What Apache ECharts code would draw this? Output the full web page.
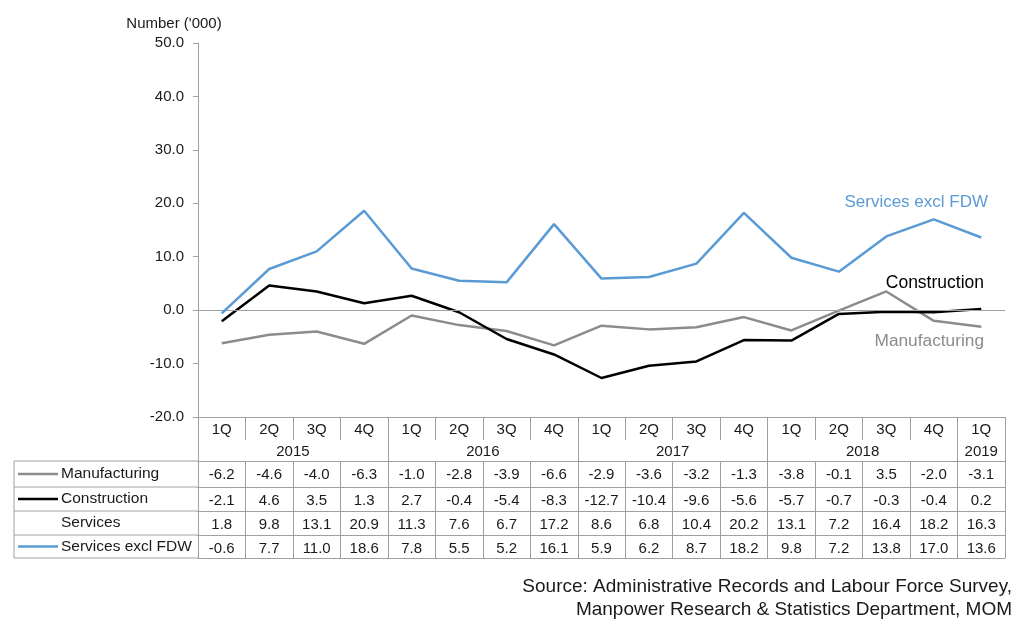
<!DOCTYPE html>
<html>
<head>
<meta charset="utf-8">
<script src="https://cdn.jsdelivr.net/npm/echarts@6/dist/echarts.min.js"></script>
<style>
html,body{margin:0;padding:0;background:#fff;}
#chart{width:1024px;height:624px;}
</style>
</head>
<body>
<div id="chart"></div>
<script>
// ---- data ----
var quarters = ['1Q','2Q','3Q','4Q','1Q','2Q','3Q','4Q','1Q','2Q','3Q','4Q','1Q','2Q','3Q','4Q','1Q'];
var yearLabels = ['2015','2016','2017','2018','2019'];
var yearSpans = [4,4,4,4,1];
var manufacturing = [-6.2,-4.6,-4.0,-6.3,-1.0,-2.8,-3.9,-6.6,-2.9,-3.6,-3.2,-1.3,-3.8,-0.1,3.5,-2.0,-3.1];
var construction = [-2.1,4.6,3.5,1.3,2.7,-0.4,-5.4,-8.3,-12.7,-10.4,-9.6,-5.6,-5.7,-0.7,-0.3,-0.4,0.2];
var services = [1.8,9.8,13.1,20.9,11.3,7.6,6.7,17.2,8.6,6.8,10.4,20.2,13.1,7.2,16.4,18.2,16.3];
var servicesExFDW = [-0.6,7.7,11.0,18.6,7.8,5.5,5.2,16.1,5.9,6.2,8.7,18.2,9.8,7.2,13.8,17.0,13.6];
var rowNames = ['Manufacturing','Construction','Services','Services excl FDW'];
var yTicks = [-20,-10,0,10,20,30,40,50];

// ---- styling / layout ----
var FONT = 'Liberation Sans, Arial, sans-serif';
var GRAY = '#8c8c8c', BLUE = '#5b9bd5', BLACK = '#000000', GRID = '#a0a0a0', TXT = '#1a1a1a';
var L = 198, R = 19, TOP = 43, BOT = 207;
var W = 1024, H = 624;
var axisY = H - BOT;             // 417
var headerH = 44;                // quarter + year rows
var rowOffsets = [44, 70, 94, 118];
var tableBottomOffset = 141;
var rowsData = [manufacturing, construction, services, servicesExFDW];
var rowColors = [GRAY, BLACK, null, BLUE];

var keys = quarters.map(function(q,i){ return String(i); });

// year boundaries / centers
var yearBounds = [0], yearCenters = [];
(function(){ var acc = 0; yearSpans.forEach(function(s){ yearCenters.push(acc + s/2); acc += s; yearBounds.push(acc); }); })();

var xAxes = [];
// quarter axis (series axis)
xAxes.push({
  type: 'category', data: keys, position: 'bottom', offset: 0, boundaryGap: true,
  axisLine: { onZero: false, lineStyle: { color: GRID, width: 1 } },
  axisTick: { show: true, length: 23, interval: 0, lineStyle: { color: GRID } },
  axisLabel: { interval: 0, margin: 5, fontSize: 15, color: TXT, fontFamily: FONT,
    formatter: function(v, i){ return quarters[i]; } },
  splitLine: { show: false }
});
// year axis
xAxes.push({
  type: 'value', min: 0, max: quarters.length, position: 'bottom', offset: 0,
  axisLine: { show: false, onZero: false },
  axisTick: { show: true, length: headerH, customValues: yearBounds, lineStyle: { color: GRID } },
  axisLabel: { show: true, margin: 27, fontSize: 15, color: TXT, fontFamily: FONT,
    customValues: yearCenters,
    formatter: function(v){ var k = yearCenters.indexOf(v); return k >= 0 ? yearLabels[k] : ''; } },
  splitLine: { show: false }
});
// data rows
rowsData.forEach(function(row, r){
  xAxes.push({
    type: 'category', data: keys, position: 'bottom', offset: rowOffsets[r], boundaryGap: true,
    axisLine: { onZero: false, lineStyle: { color: GRID, width: 1 } },
    axisTick: { show: true, length: (r < 3 ? rowOffsets[r+1] : tableBottomOffset) - rowOffsets[r], interval: 0, lineStyle: { color: GRID } },
    axisLabel: { interval: 0, margin: 6, fontSize: 15, color: TXT, fontFamily: FONT,
      formatter: function(v, i){ return row[i].toFixed(1); } },
    splitLine: { show: false }
  });
});
// table bottom
xAxes.push({
  type: 'category', data: keys, position: 'bottom', offset: tableBottomOffset,
  axisLine: { onZero: false, lineStyle: { color: GRID, width: 1 } },
  axisTick: { show: false }, axisLabel: { show: false }, splitLine: { show: false }
});

// left column graphics
var graphics = [];
var rowTops = rowOffsets.map(function(o){ return axisY + o; });
var rowBottoms = rowOffsets.slice(1).concat([tableBottomOffset]).map(function(o){ return axisY + o; });
var lx = 14;
graphics.push({ type: 'line', shape: { x1: lx, y1: rowTops[0], x2: lx, y2: axisY + tableBottomOffset }, style: { stroke: GRID, lineWidth: 1 } });
rowTops.forEach(function(t){
  graphics.push({ type: 'line', shape: { x1: lx, y1: t, x2: L, y2: t }, style: { stroke: GRID, lineWidth: 1 } });
});
graphics.push({ type: 'line', shape: { x1: lx, y1: axisY + tableBottomOffset, x2: L, y2: axisY + tableBottomOffset }, style: { stroke: GRID, lineWidth: 1 } });
rowNames.forEach(function(n, r){
  var cy = (rowTops[r] + rowBottoms[r]) / 2;
  if (rowColors[r]) {
    graphics.push({ type: 'line', shape: { x1: 18, y1: cy, x2: 58, y2: cy }, style: { stroke: rowColors[r], lineWidth: 2.5 } });
  }
  graphics.push({ type: 'text', x: 61, y: cy, style: { text: n, fill: TXT, font: '15.5px ' + FONT, textAlign: 'left', textVerticalAlign: 'middle' } });
});
// series labels
graphics.push({ type: 'text', x: 988, y: 202, style: { text: 'Services excl FDW', fill: BLUE, font: '17px ' + FONT, textAlign: 'right', textVerticalAlign: 'middle' } });
graphics.push({ type: 'text', x: 984, y: 283, style: { text: 'Construction', fill: BLACK, font: '17.5px ' + FONT, textAlign: 'right', textVerticalAlign: 'middle' } });
graphics.push({ type: 'text', x: 984, y: 341, style: { text: 'Manufacturing', fill: GRAY, font: '17.3px ' + FONT, textAlign: 'right', textVerticalAlign: 'middle' } });
// source
graphics.push({ type: 'text', x: 1012, y: 587, style: { text: 'Source: Administrative Records and Labour Force Survey,', fill: TXT, font: '19px ' + FONT, textAlign: 'right', textVerticalAlign: 'middle' } });
graphics.push({ type: 'text', x: 1012, y: 610, style: { text: 'Manpower Research & Statistics Department, MOM', fill: TXT, font: '19px ' + FONT, textAlign: 'right', textVerticalAlign: 'middle' } });

var chart = echarts.init(document.getElementById('chart'), null, { renderer: 'canvas' });
chart.setOption({
  animation: false,
  backgroundColor: '#ffffff',
  grid: { left: L, right: R, top: TOP, bottom: BOT, containLabel: false },
  xAxis: xAxes,
  yAxis: {
    type: 'value', min: yTicks[0], max: yTicks[yTicks.length-1], interval: 10,
    name: "Number ('000)", nameLocation: 'end', nameGap: 12,
    nameTextStyle: { fontSize: 15, color: TXT, fontFamily: FONT, align: 'center', padding: [0, 48, 0, 0] },
    axisLine: { show: true, lineStyle: { color: GRID, width: 1 } },
    axisTick: { show: true, length: 5, inside: false, lineStyle: { color: GRID } },
    axisLabel: { margin: 14, fontSize: 15, color: TXT, fontFamily: FONT, formatter: function(v){ return v.toFixed(1); } },
    splitLine: { show: false }
  },
  series: [
    { name: 'Manufacturing', type: 'line', data: manufacturing, xAxisIndex: 0, symbol: 'none',
      lineStyle: { color: GRAY, width: 2.5 }, itemStyle: { color: GRAY }, z: 3,
      markLine: { silent: true, symbol: 'none', label: { show: false },
        lineStyle: { color: GRID, width: 1, type: 'solid' }, data: [{ yAxis: 0 }] } },
    { name: 'Construction', type: 'line', data: construction, xAxisIndex: 0, symbol: 'none',
      lineStyle: { color: BLACK, width: 2.5 }, itemStyle: { color: BLACK }, z: 4 },
    { name: 'Services excl FDW', type: 'line', data: servicesExFDW, xAxisIndex: 0, symbol: 'none',
      lineStyle: { color: BLUE, width: 2.5 }, itemStyle: { color: BLUE }, z: 5 }
  ],
  graphic: graphics
});
</script>
</body>
</html>
